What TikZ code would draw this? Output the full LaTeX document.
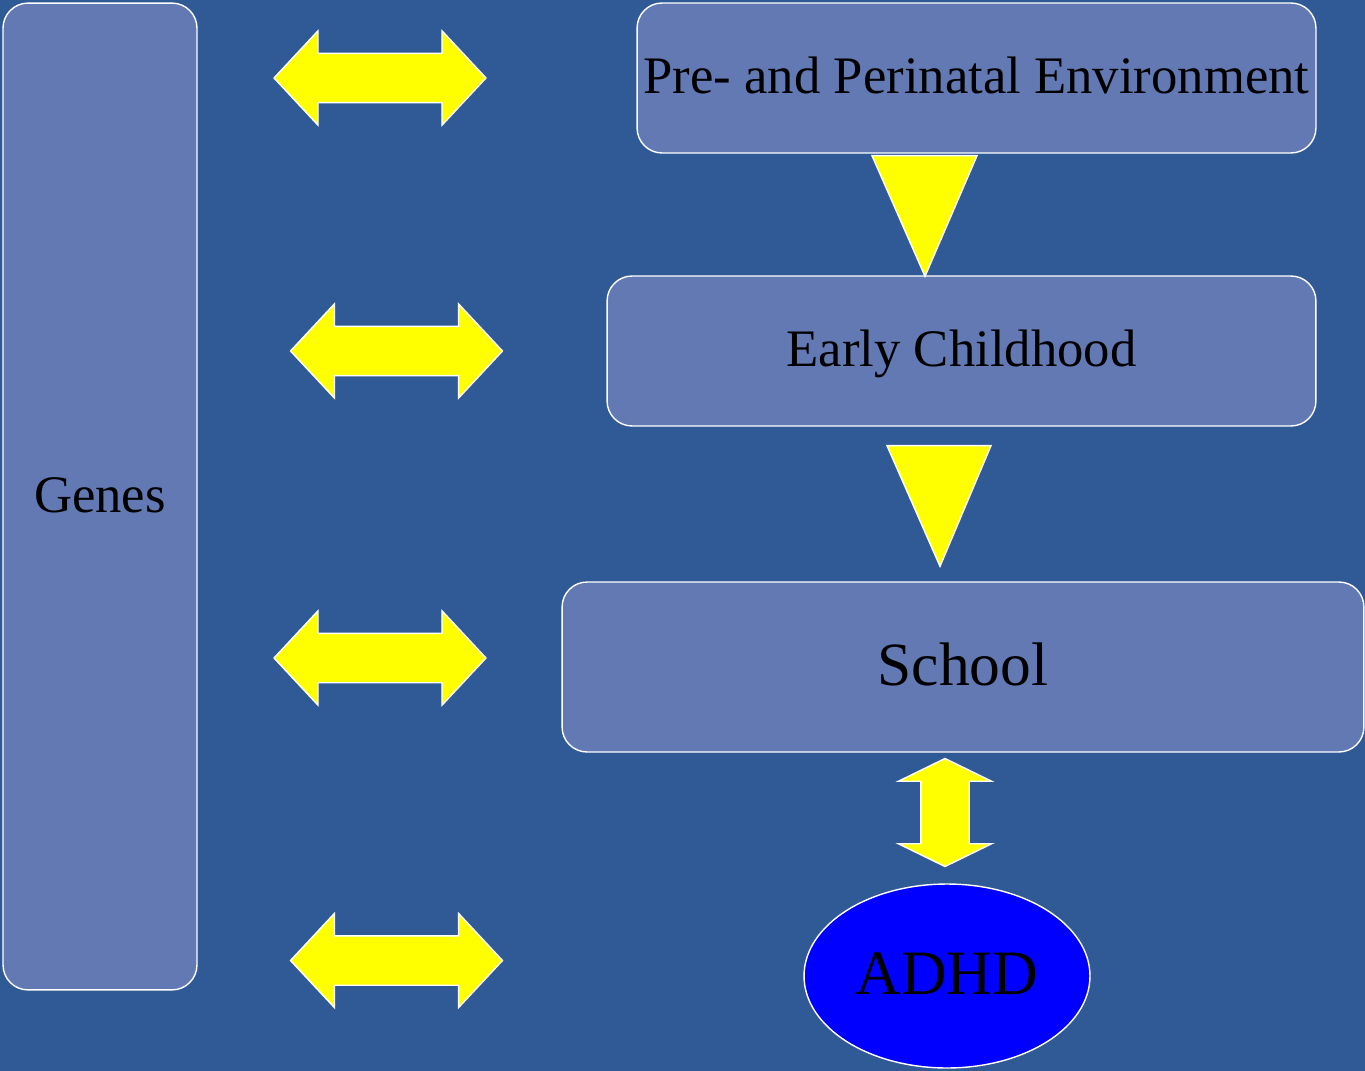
\documentclass[tikz,border=0pt]{standalone}
\usepackage{fontspec}
\setmainfont{Liberation Serif}
\usetikzlibrary{calc,shapes,shapes.arrows,positioning}
\definecolor{bgblue}{RGB}{48,90,150}
\definecolor{boxblue}{RGB}{98,121,180}
\definecolor{adhdblue}{RGB}{0,0,255}
\definecolor{arrowyellow}{RGB}{255,255,0}

\begin{document}
\begin{tikzpicture}[x=0.02cm, y=-0.02cm,
	stage/.style={rectangle, rounded corners=0.5cm, draw=white, line width=0.8pt, fill=boxblue, inner sep=0pt, text height=18pt, text depth=0pt, font=\fontsize{30}{34}\selectfont},
	both/.style={double arrow, draw=white, line width=0.8pt, fill=arrowyellow, inner xsep=0pt, inner ysep=0.48cm, minimum height=4.24cm, double arrow head extend=0.45cm, double arrow tip angle=94},
	tri/.style={draw=white, line width=0.8pt, fill=arrowyellow, line join=miter}
]
\fill[bgblue] (0,0) rectangle (1365,1071);
\useasboundingbox (0,0) rectangle (1365,1071);

\node[stage, minimum width=3.88cm, minimum height=19.74cm] (genes) at (100,496.5) {Genes};
\node[stage, minimum width=13.58cm, minimum height=3cm] (pre) at (976.5,78) {Pre- and Perinatal Environment};
\node[stage, minimum width=14.18cm, minimum height=3cm] (early) at (961.5,351) {Early Childhood};
\node[stage, minimum width=16.04cm, minimum height=3.4cm, text height=21pt, font=\fontsize{35}{39}\selectfont] (school) at (963,667) {School};
\node[ellipse, draw=white, line width=0.8pt, fill=adhdblue, inner sep=0pt, text height=21.5pt, text depth=0pt, minimum width=5.72cm, minimum height=3.68cm, font=\fontsize{36}{40}\selectfont] (adhd) at (947,976) {ADHD};

% genes <-> each stage
\node[both] (g1) at (380,78) {};
\node[both] (g2) at (396.5,351) {};
\node[both] (g3) at (380,658) {};
\node[both] (g4) at (396.5,960.5) {};

% stage to stage
\draw[tri] ($(pre.south)+(-104.5,2)$) -- ($(pre.south)+(0.5,2)$) -- ($(early.north)+(-36.5,1)$) -- cycle;
\draw[tri] ($(early.south)+(-74.5,19)$) -- ($(early.south)+(29.5,19)$) -- ($(school.north)+(-23,-15)$) -- cycle;

% school <-> adhd
\node[both, rotate=90, inner ysep=0.47cm, minimum height=2.16cm, double arrow tip angle=128] (sa) at (945,812.5) {};
\end{tikzpicture}
\end{document}
